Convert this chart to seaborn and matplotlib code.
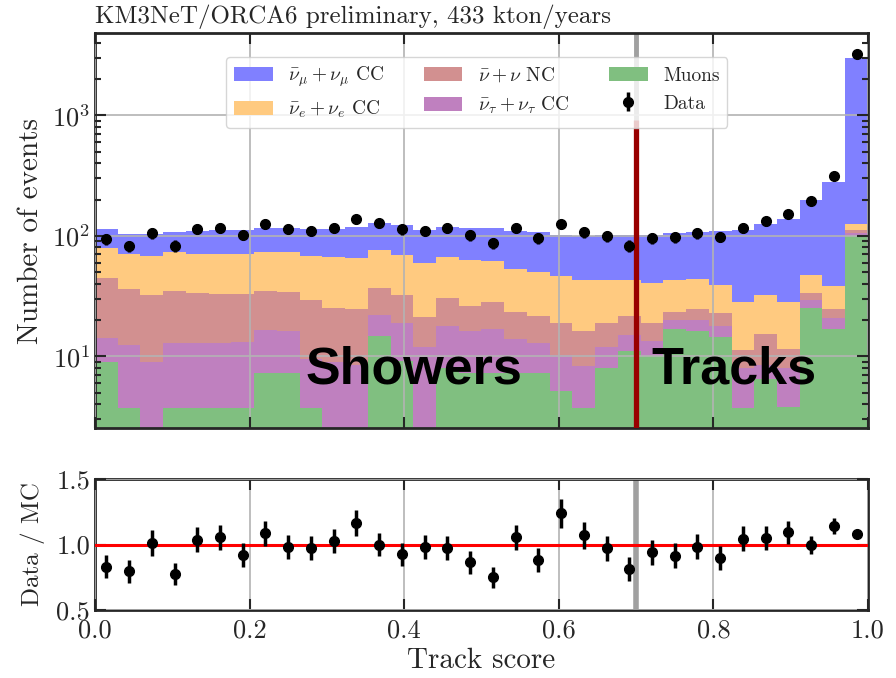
import numpy as np
import pandas as pd
import matplotlib
matplotlib.use("Agg")
import matplotlib.pyplot as plt
import seaborn as sns
from matplotlib.patches import Patch
from matplotlib.ticker import NullLocator, FixedLocator

# ---- binning of the track score -------------------------------------------
n_bins = 34
bin_edges = np.linspace(0.0, 1.0, n_bins + 1)
bin_centers = 0.5 * (bin_edges[:-1] + bin_edges[1:])

# ---- expected events per component (stacked from bottom to top) -----------
muons = [9.0, 3.7, 1.5, 3.7, 3.7, 3.7, 3.7, 7.2, 7.2, 3.7, 1.5, 1.5, 14.7, 9.1,
         1.5, 8.0, 7.3, 7.3, 7.3, 7.3, 5.2, 3.7, 8.0, 11.0, 10.0, 17.0, 16.2,
         14.6, 3.7, 6.5, 3.8, 25.2, 16.7, 99.0]
nutau_cc = [5.3, 8.6, 7.5, 9.3, 9.3, 9.3, 9.5, 9.2, 9.0, 5.8, 7.5, 7.0, 7.5, 9.9,
            10.5, 9.8, 8.9, 9.7, 6.7, 5.7, 5.0, 4.6, 3.9, 4.0, 3.5, 3.0, 3.8,
            3.3, 4.3, 2.0, 4.2, 4.0, 4.2, 6.0]
nu_nc = [30.7, 24.2, 23.5, 21.7, 20.6, 20.0, 19.8, 18.3, 17.8, 19.7, 16.2, 16.3,
         14.8, 13.5, 9.3, 12.8, 9.8, 11.5, 9.5, 8.5, 8.6, 7.9, 7.1, 6.8, 5.5,
         3.2, 4.8, 5.0, 3.2, 6.8, 3.6, 4.4, 3.6, 7.0]
nue_cc = [34.0, 34.5, 35.5, 38.3, 37.4, 38.0, 38.0, 38.3, 39.0, 38.8, 41.4, 40.2,
          38.6, 37.1, 38.2, 36.4, 37.0, 33.5, 29.5, 28.5, 27.9, 27.1, 24.3, 21.5,
          21.7, 20.1, 18.7, 16.5, 17.1, 16.9, 16.5, 14.0, 14.1, 13.0]
numu_cc = [34.0, 32.0, 36.0, 34.0, 39.0, 40.0, 40.0, 43.0, 43.0, 45.0, 47.4, 53.0,
           51.4, 52.4, 52.5, 52.0, 54.0, 54.0, 57.0, 58.0, 54.3, 56.7, 58.7, 58.7,
           61.3, 62.7, 63.5, 69.6, 82.7, 93.8, 110.9, 149.4, 238.4, 2875.0]

# ---- observed events ---------------------------------------------------------
data = [94, 82, 105, 83, 114, 117, 102, 126, 114, 110, 117, 137, 127, 113, 110,
        116, 101, 87, 116, 95, 125, 107, 99, 83, 96, 97, 105, 98, 116, 132, 152,
        196, 316, 3230]

labels = [r"$\bar{\nu}_\mu + \nu_\mu$ CC", r"$\bar{\nu}_e + \nu_e$ CC",
          r"$\bar{\nu} + \nu$ NC", r"$\bar{\nu}_\tau + \nu_\tau$ CC", "Muons"]
colors = ["#8080ff", "#ffca80", "#d29090", "#bf80bf", "#80bf80"]
cut_value = 0.7

# ---- style ---------------------------------------------------------------------
sns.set_style("ticks")
plt.rcParams.update({
    "font.family": "serif",
    "font.serif": ["cmr10"],
    "mathtext.fontset": "cm",
    "axes.formatter.use_mathtext": True,
    "axes.unicode_minus": False,
    "axes.linewidth": 2.0,
})

fig = plt.figure(figsize=(8.96, 6.78), dpi=100)
ax = fig.add_axes([0.106, 0.3687, 0.8627, 0.5826])
ax_r = fig.add_axes([0.106, 0.1003, 0.8627, 0.1932])

# ---- stacked expectation -------------------------------------------------------
hist_df = pd.DataFrame({
    "score": np.tile(bin_centers, 5),
    "events": np.concatenate([numu_cc, nue_cc, nu_nc, nutau_cc, muons]),
    "component": np.repeat(labels, n_bins),
})
sns.histplot(data=hist_df, x="score", weights="events", hue="component",
             hue_order=labels, palette=dict(zip(labels, colors)),
             multiple="stack", bins=bin_edges.tolist(), element="step",
             fill=True, alpha=1.0, linewidth=0, legend=False, ax=ax)

data = np.asarray(data, dtype=float)
data_err = np.sqrt(data)
eb = ax.errorbar(bin_centers, data, yerr=data_err, fmt="o", color="black",
                 ms=7, elinewidth=2.5, capsize=0, zorder=5)

ax.set_yscale("log")
ax.set_xlim(0, 1)
ax.set_ylim(2.54, 4820)

ax.axvline(cut_value, color="#a0a0a0", lw=3.5, zorder=2)
ax.vlines(cut_value, 2.54, 910, color="#990000", lw=3.8, zorder=3)

ax.text(0.272, 6.0, "Showers", fontsize=37.5, fontweight="bold",
        family="Liberation Sans", color="black", ha="left", va="baseline",
        zorder=4)
ax.text(0.72, 6.0, "Tracks", fontsize=37.5, fontweight="bold",
        family="Liberation Sans", color="black", ha="left", va="baseline",
        zorder=4)

ax.set_axisbelow(False)
ax.grid(True, which="major", color="#b3b3b3", lw=1.2)
ax.xaxis.set_major_locator(FixedLocator([0.0, 0.2, 0.4, 0.6, 0.8, 1.0]))
ax.xaxis.set_minor_locator(NullLocator())
ax.tick_params(which="both", direction="in", top=True, right=True, width=1.5,
               labelsize=19, labelbottom=False)
ax.tick_params(which="major", length=8)
ax.tick_params(which="minor", length=4)
ax.set_xlabel("")
ax.set_ylabel("Number of events", fontsize=21, labelpad=6)
ax.set_title("KM3NeT/ORCA6 preliminary, 433 kton/years", loc="left",
             fontsize=18, pad=7)

handles = [Patch(facecolor=c, edgecolor="none") for c in colors] + [eb]
ax.legend(handles, labels + ["Data"], ncol=3, loc="upper center",
          bbox_to_anchor=(0.494, 0.964), fontsize=14, framealpha=0.8,
          edgecolor="#cccccc", columnspacing=2.0, handlelength=2.0)

# ---- data / expectation ratio ------------------------------------------------
mc_total = (np.asarray(muons) + np.asarray(nutau_cc) + np.asarray(nu_nc)
            + np.asarray(nue_cc) + np.asarray(numu_cc))
ratio = data / mc_total
ratio_err = data_err / mc_total

ax_r.axhline(1.0, color="red", lw=2.2, zorder=3)
ax_r.axvline(cut_value, color="#a0a0a0", lw=4, zorder=2)
ax_r.errorbar(bin_centers, ratio, yerr=ratio_err, fmt="o", color="black",
              ms=7, elinewidth=2.5, capsize=0, zorder=5)
ax_r.set_xlim(0, 1)
ax_r.set_ylim(0.5, 1.5)
ax_r.set_yticks([0.5, 1.0, 1.5])
ax_r.set_yticklabels(["0.5", "1.0", "1.5"])
ax_r.set_xticks([0.0, 0.2, 0.4, 0.6, 0.8, 1.0])
ax_r.set_xticklabels(["0.0", "0.2", "0.4", "0.6", "0.8", "1.0"])
ax_r.xaxis.set_minor_locator(NullLocator())
ax_r.yaxis.set_minor_locator(NullLocator())
ax_r.set_axisbelow(False)
ax_r.grid(True, which="major", color="#b3b3b3", lw=1.2)
ax_r.tick_params(which="both", direction="in", top=True, right=True, width=1.5,
                 length=8, labelsize=19)
ax_r.tick_params(axis="x", pad=6)
ax_r.set_xlabel("Track score", fontsize=21)
ax_r.set_ylabel("Data / MC", fontsize=18, labelpad=8)

fig.savefig("out.png", dpi=100)
